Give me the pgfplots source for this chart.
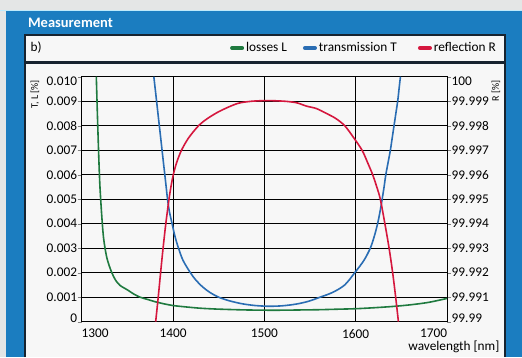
\documentclass[border=0pt]{standalone}
\usepackage{pgfplots}
\pgfplotsset{compat=1.18}
\usepackage{fontspec}
\setmainfont{Carlito}

\definecolor{topgray}{HTML}{E4E6E6}
\definecolor{bluebg}{HTML}{1B7DC0}
\definecolor{panel}{HTML}{F7F7F7}
\definecolor{frame}{HTML}{17232F}
\definecolor{cL}{HTML}{1F7A3F}
\definecolor{cT}{HTML}{2A6DB3}
\definecolor{cR}{HTML}{D5173E}

\tikzset{lbl/.style={font=\fontsize{13.3}{15}\selectfont},
         sml/.style={font=\fontsize{10}{12}\selectfont}}
\pgfplotsset{curve/.style={line width=1.6pt, smooth, no markers}}
% keep the end labels inside the axis height, as in the reference
\newcommand{\dn}[1]{\raisebox{-5pt}[\height][\depth]{#1}}
\newcommand{\up}[1]{\raisebox{3.7pt}[\height][\depth]{#1}}
\newcommand{\gap}[1]{\rule{#1}{0pt}}

\begin{document}
\begin{tikzpicture}[x=1pt,y=1pt]
\useasboundingbox (0,0) rectangle (522,357);
% screenshot frame
\fill[topgray] (0,0) rectangle (522,357);
\fill[bluebg] (6,0) rectangle (522,346);
\draw[cyan!25, line width=1pt] (0,346.5) -- (522,346.5);
\node[anchor=west, text=white, font=\bfseries\fontsize{14.5}{16}\selectfont] at (24.5,334) {Measurement};
\fill[panel] (25,0) rectangle (505,322);
\draw[frame, line width=2pt] (25,0) -- (25,322) -- (505,322) -- (505,0);
\draw[frame, line width=3pt] (25,294) -- (505,294);
\node[anchor=west, lbl] at (27,309) {b)};

\begin{axis}[
    at={(81.7pt,35.3pt)}, anchor=south west,
    scale only axis, width=365.3pt, height=245pt,
    xmin=1300, xmax=1700, ymin=0, ymax=0.01,
    scaled y ticks=false,
    xtick={1300,1400,1500,1600,1700},
    xticklabels={\rlap{1300},1400,1500,1600,\llap{1700}},
    ytick={0,0.001,0.002,0.003,0.004,0.005,0.006,0.007,0.008,0.009,0.01},
    yticklabels={\up{0},0.001,0.002,0.003,0.004,0.005,0.006,0.007,0.008,0.009,\dn{0.010}},
    ytick pos=left, tick align=outside, major tick length=4pt,
    xtick style={draw=none},
    ticklabel style={lbl},
    yticklabel style={inner xsep=0.5pt},
    grid=major, major grid style={black, line width=0.8pt},
    axis line style={black, line width=0.8pt},
    ylabel={T, L [\%]},
    ylabel style={sml, at={(axis description cs:-0.128,1)}, anchor=east},
    xlabel={wavelength [nm]},
    xlabel style={lbl, at={(axis description cs:1.153,-0.103)}, anchor=east},
    legend columns=-1,
    legend style={at={(axis description cs:1.148,1.117)}, anchor=east,
      draw=none, fill=none, lbl,
      /tikz/every odd column/.append style={column sep=0pt}},
    legend image code/.code={\draw[line width=4pt, line cap=round] (0pt,0pt) -- (10pt,0pt);},
    clip=true,
  ]
% losses L
\addplot[curve, cL] coordinates {
  (1316,0.0100)(1317,0.0087)(1318,0.0075)(1319,0.0064)(1320,0.0055)
  (1322,0.0043)(1324,0.0034)(1327,0.0027)(1330,0.0023)(1333,0.0020)
  (1337,0.0017)(1342,0.00148)(1350,0.0013)(1357,0.00113)(1364,0.0010)
  (1372,0.00091)(1380,0.00082)(1390,0.00073)(1400,0.00066)(1415,0.00060)
  (1430,0.00055)(1445,0.00052)(1460,0.00050)(1480,0.00048)(1500,0.00047)
  (1520,0.00047)(1540,0.00048)(1560,0.00049)(1580,0.00051)(1600,0.00053)
  (1620,0.00057)(1640,0.00062)(1660,0.00069)(1680,0.00079)(1700,0.00095)
};
% transmission T
\addplot[curve, cT] coordinates {
  (1379,0.0100)(1380.5,0.0095)(1382,0.0090)(1383.5,0.0085)(1385,0.0080)
  (1386.5,0.0075)(1388,0.0070)(1389.5,0.0065)(1391,0.0060)(1392.5,0.0055)
  (1394,0.0050)(1396,0.0045)(1399,0.0040)(1402,0.0035)(1406,0.0030)
  (1411,0.0025)(1419,0.0020)(1425,0.0017)(1433,0.0014)(1441,0.00118)
  (1450,0.0010)(1462,0.00085)(1476,0.00073)(1490,0.00066)(1505,0.00063)
  (1520,0.00065)(1535,0.00072)(1548,0.00083)(1561,0.0010)(1575,0.0012)
  (1588,0.0015)(1599,0.0020)(1609,0.0025)(1616,0.0030)
  (1620.5,0.0035)(1624,0.0040)(1626.7,0.0045)(1629,0.0050)(1631.1,0.0055)
  (1633,0.0060)(1635.5,0.0065)(1638,0.0070)(1640,0.0075)(1642,0.0080)
  (1644,0.0085)(1646,0.0090)(1647.5,0.0095)(1649,0.0100)
};
\addlegendimage{cR}
\legend{losses L\gap{14pt}, transmission T\gap{19pt}, reflection R}
% reflection R, stored as R - 99.99 so it shares the left scale
\addplot[curve, cR] coordinates {
  (1381,0)(1383.8,0.0010)(1386.4,0.0020)(1389.1,0.0030)(1392.1,0.0040)
  (1395.6,0.0050)(1397.7,0.0055)(1400.3,0.0060)(1404,0.0065)(1409.3,0.0070)
  (1417,0.0075)(1428,0.0080)(1438,0.0083)(1451.5,0.0086)(1470,0.0089)
  (1484,0.00899)(1497,0.00902)(1510,0.00902)(1525,0.00899)(1536,0.00893)
  (1546,0.0088)(1557,0.0087)(1568,0.0085)(1578,0.0083)(1588,0.0080)
  (1598,0.0075)(1607,0.0070)(1613,0.0065)(1618.6,0.0060)(1623.1,0.0055)
  (1627,0.0050)(1632,0.0040)(1636.6,0.0030)(1640.5,0.0020)(1643.8,0.0010)
  (1646.8,0)
};
\end{axis}

% right-hand R scale
\begin{axis}[
    at={(81.7pt,35.3pt)}, anchor=south west,
    scale only axis, width=365.3pt, height=245pt,
    xmin=1300, xmax=1700, ymin=0, ymax=0.01,
    scaled y ticks=false,
    axis x line=none, axis y line*=right,
    ytick={0,0.001,0.002,0.003,0.004,0.005,0.006,0.007,0.008,0.009,0.01},
    yticklabels={\up{99.99},99.991,99.992,99.993,99.994,99.995,99.996,99.997,99.998,99.999,\dn{100}},
    tick align=outside, major tick length=4pt,
    ticklabel style={lbl},
    yticklabel style={inner xsep=0.5pt},
    axis line style={black, line width=0.8pt},
    ylabel={R [\%]},
    ylabel style={sml, at={(axis description cs:1.134,1)}, anchor=east},
  ]
\end{axis}
\end{tikzpicture}
\end{document}
